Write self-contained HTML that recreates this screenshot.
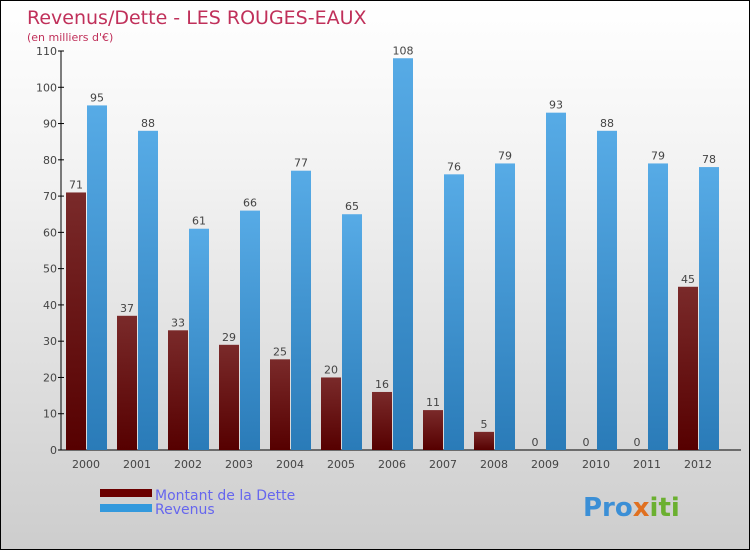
<!DOCTYPE html>
<html><head><meta charset="utf-8"><style>
body{margin:0}
#c{position:relative;width:748px;height:548px;border:1px solid #000;background:linear-gradient(#fff,#f3f3f3 30%,#cdcdcd);font-family:"DejaVu Sans","Liberation Sans",sans-serif;overflow:hidden}
</style></head><body>
<div id="c">
<svg width="748" height="548" xmlns="http://www.w3.org/2000/svg">
<defs>
<linearGradient id="gd" x1="0" y1="0" x2="0" y2="1"><stop offset="0" stop-color="#7a2a2a"/><stop offset="1" stop-color="#560000"/></linearGradient>
<linearGradient id="gr" x1="0" y1="0" x2="0" y2="1"><stop offset="0" stop-color="#57abe6"/><stop offset="1" stop-color="#2a7bb8"/></linearGradient>
</defs>
<text x="26" y="23" font-size="19" fill="#c0305a">Revenus/Dette - LES ROUGES-EAUX</text>
<text x="26" y="40" font-size="11" fill="#c0305a">(en milliers d'€)</text>
<g id="axes"></g>
<g id="bars"></g>
<rect x="99" y="488" width="52" height="8" fill="#6b0000"/>
<rect x="99" y="503" width="52" height="8" fill="#3399dd"/>
<text x="154" y="499" font-size="14" fill="#6666ee">Montant de la Dette</text>
<text x="154" y="513" font-size="14" fill="#6666ee">Revenus</text>
<text x="582" y="515" font-size="26" font-weight="bold"><tspan fill="#3b8fd6">Pro</tspan><tspan fill="#e07020">x</tspan><tspan fill="#6bb030">iti</tspan></text>
</svg></div>
<script>
const years=["2000","2001","2002","2003","2004","2005","2006","2007","2008","2009","2010","2011","2012"];
const dette=[71,37,33,29,25,20,16,11,5,0,0,0,45];
const revenus=[95,88,61,66,77,65,108,76,79,93,88,79,78];
const ticks=[0,10,20,30,40,50,60,70,80,90,100,110];
const NS="http://www.w3.org/2000/svg";
const y=v=>449-v*(399/110);
const x=i=>85+i*51;
function mk(t,a,p){const e=document.createElementNS(NS,t);for(const k in a)e.setAttribute(k,a[k]);p.appendChild(e);return e;}
const ax=document.getElementById('axes'),bg=document.getElementById('bars');
let l=mk('line',{x1:60,y1:50,x2:60,y2:449,stroke:'#000'},ax);


l=mk('line',{x1:57,y1:449,x2:740,y2:449,stroke:'#000'},ax);


ticks.forEach(t=>{
 mk('line',{x1:57,y1:y(t),x2:63,y2:y(t),stroke:'#000'},ax);
 const e=mk('text',{x:56,y:y(t)+4,'font-size':11,fill:'#444','text-anchor':'end'},ax);e.textContent=t;
 
 
});
years.forEach((yr,i)=>{
 const e=mk('text',{x:x(i),y:467,'font-size':11,fill:'#444','text-anchor':'middle'},ax);e.textContent=yr;
 
 
 const d=mk('rect',{x:x(i)-20,y:y(dette[i]),width:20,height:Math.max(y(0)-y(dette[i]),0.01)+0,fill:'url(#gd)'},bg);
 
 
 const r=mk('rect',{x:x(i)+1,y:y(revenus[i]),width:20,height:y(0)-y(revenus[i]),fill:'url(#gr)'},bg);
 
 
 const t1=mk('text',{x:x(i)-10,y:y(dette[i])-4,'font-size':11,fill:'#444','text-anchor':'middle'},bg);t1.textContent=dette[i];
 
 
 const t2=mk('text',{x:x(i)+11,y:y(revenus[i])-4,'font-size':11,fill:'#444','text-anchor':'middle'},bg);t2.textContent=revenus[i];
 
 
});
</script>
</body></html>
